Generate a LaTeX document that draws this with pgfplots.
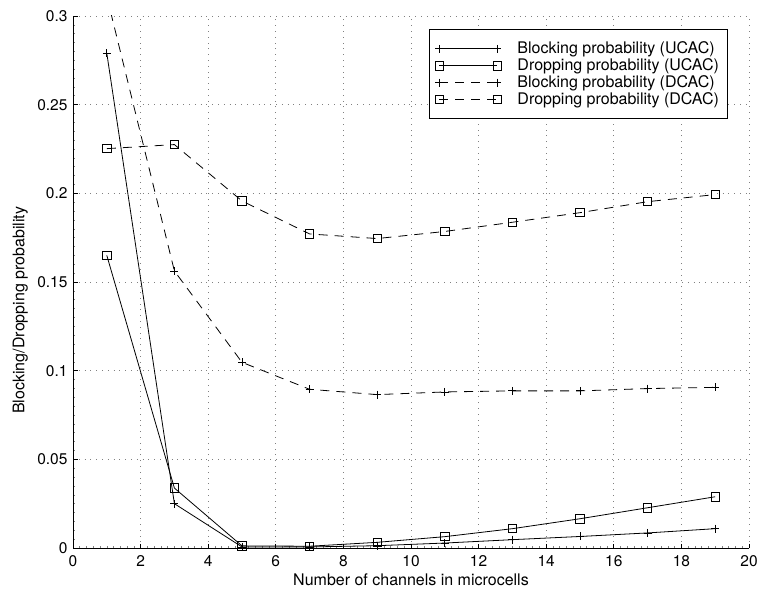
\documentclass[border=0pt]{standalone}
\usepackage{pgfplots}
\pgfplotsset{compat=1.18}
\usepackage{fontspec}
\setmainfont{TeX Gyre Heros}

% Blocking and dropping probabilities versus microcell channels
\pgfplotstableread{
n    bu      du      bd      dd
1    0.279   0.165   0.311   0.2252
3    0.025   0.0338  0.1562  0.2275
5    0.0006  0.0012  0.1047  0.1957
7    0.0006  0.0010  0.0895  0.1771
9    0.0013  0.0032  0.0865  0.1745
11   0.0028  0.0064  0.0880  0.1785
13   0.0047  0.0109  0.0886  0.1837
15   0.0065  0.0165  0.0886  0.1891
17   0.0085  0.0227  0.0899  0.1953
19   0.0109  0.0289  0.0906  0.1993
}\datatable

\begin{document}
\begin{tikzpicture}
\fontsize{16}{18.5}\selectfont
\begin{axis}[
  scale only axis,
  width=676pt, height=532pt,
  xmin=0, xmax=20, ymin=0, ymax=0.3,
  xtick={0,2,...,20},
  ytick={0,0.05,0.1,0.15,0.2,0.25,0.3},
  yticklabels={0,0.05,0.1,0.15,0.2,0.25,0.3},
  minor x tick num=9, minor y tick num=9,
  axis x line*=bottom, axis y line*=left,
  axis line style={-, line width=0.8pt},
  xtick pos=bottom, ytick pos=left,
  tick align=inside,
  major tick length=4.5pt, minor tick length=2pt,
  every tick/.style={black, line width=0.8pt},
  every minor tick/.style={gray, line width=0.6pt},
  grid=major,
  major grid style={gray, line width=0.7pt, dash pattern=on 0.8pt off 5pt},
  /pgf/number format/assume math mode=true,
  tick label style={font=\fontsize{15.5}{18}\selectfont},
  xticklabel style={yshift=-2pt},
  yticklabel style={xshift=0pt},
  label style={font=\fontsize{16}{18.5}\selectfont},
  xlabel={Number of channels in microcells},
  ylabel={Blocking/Dropping probability},
  xlabel style={at={(axis description cs:0.5,-0.060)}, anchor=center},
  ylabel style={at={(axis description cs:-0.078,0.447)}, anchor=center, rotate=0},
  legend style={at={(axis description cs:0.968,0.975)}, anchor=north east,
    draw=black, line width=0.8pt, fill=white,
    font=\fontsize{16}{18.5}\selectfont,
    row sep=-1.5pt, inner xsep=6pt, inner ysep=10pt,
    /tikz/every odd column/.append style={column sep=14pt}},
  legend cell align=left,
  legend image code/.code={\draw[#1] plot coordinates {(0pt,0pt) (58pt,0pt)};},
  every axis plot/.append style={black, line width=0.8pt},
]
\addplot[solid, mark=+, mark size=4pt, mark options={solid}] table[x=n, y=bu] {\datatable};
\addlegendentry{Blocking probability (UCAC)}
\addplot[solid, mark=square, mark size=4.2pt, mark options={solid}] table[x=n, y=du] {\datatable};
\addlegendentry{Dropping probability (UCAC)}
\addplot[dash pattern=on 9pt off 7pt, mark=+, mark size=4pt, mark options={solid}] table[x=n, y=bd] {\datatable};
\addlegendentry{Blocking probability (DCAC)}
\addplot[dash pattern=on 9pt off 7pt, mark=square, mark size=4.2pt, mark options={solid}] table[x=n, y=dd] {\datatable};
\addlegendentry{Dropping probability (DCAC)}
\coordinate (LL) at (rel axis cs:0,0);
\coordinate (UR) at (rel axis cs:1,1);
\end{axis}
\path ([shift={(-73pt,-47pt)}]LL) rectangle ([shift={(18pt,16pt)}]UR);
\end{tikzpicture}
\end{document}
